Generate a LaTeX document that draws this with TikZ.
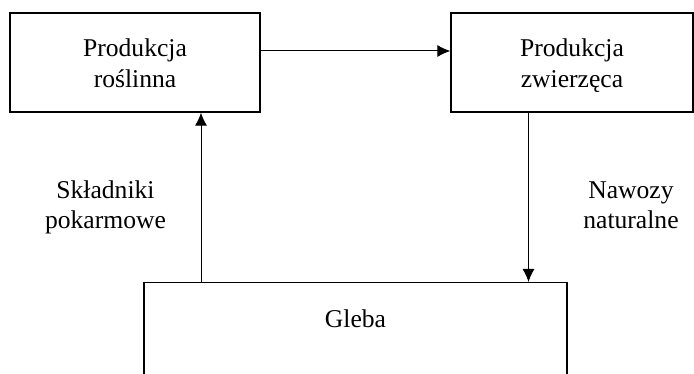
\documentclass[tikz,border=0pt]{standalone}
\usepackage{fontspec}
\setmainfont{Liberation Serif}
\usetikzlibrary{arrows.meta}

\begin{document}
\begin{tikzpicture}[x=1pt,y=-1pt,
  box/.style={draw,line width=1.3pt,inner sep=0pt,align=center,
    font=\fontsize{25.6}{31}\selectfont},
  txt/.style={align=center,inner sep=0pt,font=\fontsize{25.6}{30}\selectfont},
  arr/.style={line width=1pt,-{Latex[length=13pt,width=12pt]}}]
  \useasboundingbox (0,0) rectangle (694,374);

  % boxes
  \node[box,minimum width=250pt,minimum height=99pt,text height=53pt,text depth=2pt]
    (rosl) at (135,62.5) {Produkcja\\roślinna};
  \node[box,minimum width=242pt,minimum height=99pt,text height=53pt,text depth=2pt]
    (zwierz) at (572,62.5) {Produkcja\\zwierzęca};
  \node[box,anchor=north,minimum width=423pt,text height=45pt,text depth=60pt]
    (gleba) at (355.5,282) {Gleba};

  % labels
  \node[txt] (sklad) at (105.5,207) {Składniki\\pokarmowe};
  \node[txt] (nawozy) at (631,205) {Nawozy\\naturalne};

  % arrows
  \coordinate (top) at (0,51);   % y of the top arrow
  \coordinate (up) at (201,0);   % x of the left arrow
  \coordinate (down) at (528.5,0); % x of the right arrow
  \draw[arr] (rosl.east |- top) -- (zwierz.west |- top);
  \draw[arr] (gleba.north -| up) -- (rosl.south -| up);
  \draw[arr] (zwierz.south -| down) -- (gleba.north -| down);
\end{tikzpicture}
\end{document}
